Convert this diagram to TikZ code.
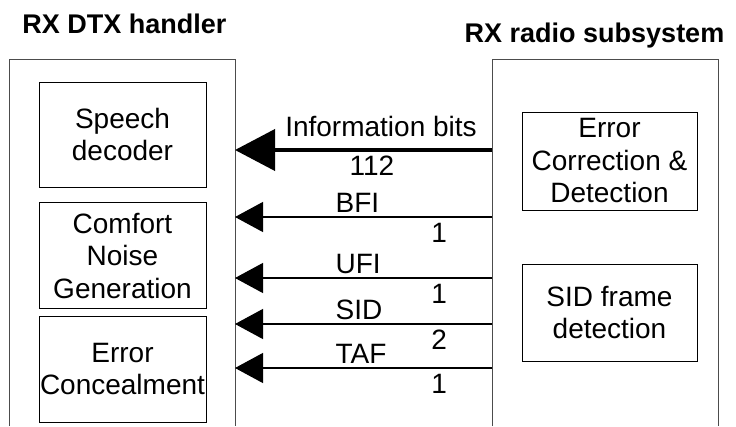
\documentclass[tikz,border=0pt]{standalone}
\usepackage{fontspec}
\setmainfont{Liberation Sans}
\usetikzlibrary{positioning, arrows.meta}

\begin{document}
\begin{tikzpicture}[x=1pt, y=-1pt, font=\fontsize{28}{32.5}\selectfont]
      \tikzstyle{block}=[draw, line width=1pt, align=center, inner sep=0pt, minimum width=167pt, minimum height=105pt]
      \tikzstyle{frame}=[draw=black!70, line width=1pt]
      \tikzstyle{heading}=[font=\fontsize{27}{32}\selectfont\bfseries, anchor=base]
      \tikzstyle{infoarrow}=[line width=4pt, -{Triangle[length=40pt, width=41pt]}]
      \tikzstyle{sigarrow}=[line width=1.2pt, -{Triangle[length=28pt, width=30pt]}]
      \tikzstyle{siglabel}=[anchor=base west, inner sep=0pt, yshift=5pt]
      \tikzstyle{bitcount}=[anchor=base, inner sep=0pt, yshift=-25.5pt]

      \useasboundingbox (0,0) rectangle (736,426);

      % Frames
      \draw[frame] (9,426) -- (9,59) -- (235,59) -- (235,426);
      \draw[frame] (492,426) -- (492,59) -- (718,59) -- (718,426);
      \node[heading] (dtxTitle)   at (124.5,33) {RX DTX handler};
      \node[heading] (radioTitle) at (594.5,42) {RX radio subsystem};

      % Nodes
      \node[block]                    (decoder)     at (122.5,134.5) {Speech\\decoder};
      \node[block, minimum height=106pt] (cng)      at (122.5,255.5) {Comfort\\Noise\\Generation};
      \node[block, minimum height=106pt] (conceal)  at (122.5,369)   {Error\\Concealment};
      \node[block, minimum width=175pt, minimum height=98pt] (ecd)    at (609.5,161)   {Error\\Correction \&\\Detection};
      \node[block, minimum width=175pt, minimum height=97pt] (sidDet) at (609.5,312.5) {SID frame\\detection};

      % Ends of the connectors
      \coordinate (infoR) at (492,150);  \coordinate (infoL) at (235,150);
      \coordinate (bfiR)  at (492,217);  \coordinate (bfiL)  at (235,217);
      \coordinate (ufiR)  at (492,278);  \coordinate (ufiL)  at (235,278);
      \coordinate (sidR)  at (492,324);  \coordinate (sidL)  at (235,324);
      \coordinate (tafR)  at (492,368);  \coordinate (tafL)  at (235,368);

      % Edges
      \path
        (infoR) edge[infoarrow] node[pos=.432, anchor=base, inner sep=0pt, yshift=14pt] {Information bits}
                                node[pos=.467, bitcount] {112} (infoL)
        (bfiR)  edge[sigarrow] node[pos=.611, siglabel] {BFI}
                               node[pos=.206, bitcount] {1} (bfiL)
        (ufiR)  edge[sigarrow] node[pos=.611, siglabel] {UFI}
                               node[pos=.206, bitcount] {1} (ufiL)
        (sidR)  edge[sigarrow] node[pos=.611, siglabel] {SID}
                               node[pos=.206, bitcount] {2} (sidL)
        (tafR)  edge[sigarrow] node[pos=.611, siglabel] {TAF}
                               node[pos=.206, bitcount] {1} (tafL);
    \end{tikzpicture}
\end{document}
